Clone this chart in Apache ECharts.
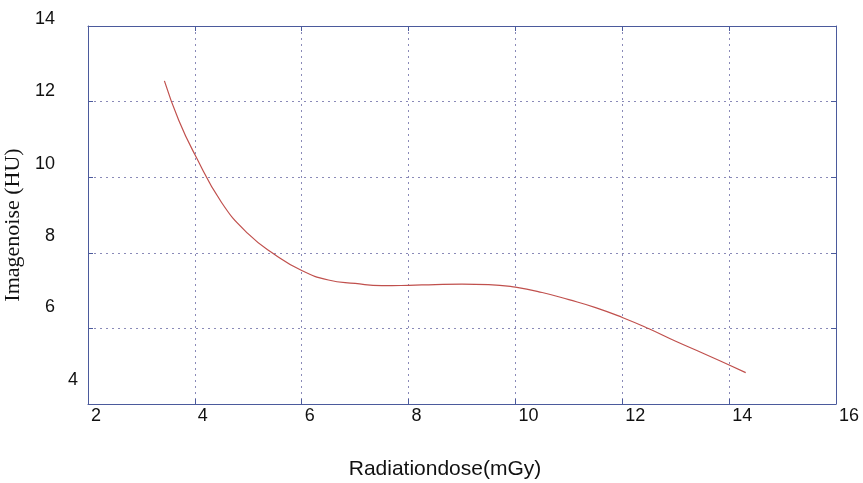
<!DOCTYPE html>
<html>
<head>
<meta charset="utf-8">
<script src="https://cdn.jsdelivr.net/npm/echarts@6/dist/echarts.min.js"></script>
<style>
  html, body { margin: 0; padding: 0; background: #fff; }
  #chart { width: 863px; height: 483px; }
</style>
</head>
<body>
<div id="chart"></div>
<script>
// dose (mGy) vs image noise (HU)
const doseValues = [3.43, 3.7, 4.0, 4.5, 5.0, 5.5, 6.0, 6.5, 7.0, 7.5, 8.0, 8.5, 9.0, 9.5, 10.0, 10.5, 11.0, 11.5, 12.0, 12.5, 13.0, 13.5, 14.0, 14.31];
const noiseValues = [12.55, 11.5, 10.6, 9.33, 8.5, 7.95, 7.53, 7.28, 7.19, 7.13, 7.14, 7.16, 7.17, 7.16, 7.09, 6.95, 6.76, 6.55, 6.29, 5.99, 5.66, 5.35, 5.03, 4.83];
const xTicks = [2, 4, 6, 8, 10, 12, 14, 16];
const yTicks = [4, 6, 8, 10, 12, 14];

const frameColor = "#4b5a9c";
const gridColor = "#8a8ab8";
const sans = "'Liberation Sans', Arial, sans-serif";

// the y tick labels sit a bit above their gridlines in the original
const yLabelRich = {
  v14: { padding: [0, 23, 14, 0] },
  v12: { padding: [0, 23, 22, 0] },
  v10: { padding: [0, 23, 26, 0] },
  v8: { padding: [0, 23, 34, 0] },
  v6: { padding: [0, 23, 42, 0] },
  v4: { padding: [0, 0, 48, 0] },
};

const chart = echarts.init(document.getElementById("chart"));

const innerTicks = { show: true, inside: true, length: 5, lineStyle: { color: frameColor } };

chart.setOption({
  animation: false,
  backgroundColor: "#fff",
  grid: { left: 88, right: 27, top: 26, bottom: 79, outerBoundsMode: "none", containLabel: false },
  xAxis: [
    {
      type: "value",
      min: xTicks[0],
      max: xTicks[xTicks.length - 1],
      interval: 2,
      name: "Radiationdose(mGy)",
      nameLocation: "middle",
      nameGap: 55,
      nameTextStyle: { fontFamily: sans, fontSize: 21, color: "#111", padding: [0, 34, 0, 0] },
      axisLine: { show: true, lineStyle: { color: frameColor } },
      axisTick: innerTicks,
      axisLabel: {
        fontFamily: sans,
        fontSize: 18,
        color: "#111",
        align: "left",
        margin: 3,
        padding: [0, 0, 0, 3],
        showMinLabel: true,
        showMaxLabel: true,
      },
      splitLine: { show: true, lineStyle: { color: gridColor, type: [2, 4], width: 1 } },
    },
    {
      type: "value",
      position: "top",
      min: xTicks[0],
      max: xTicks[xTicks.length - 1],
      interval: 2,
      axisLine: { show: true, lineStyle: { color: frameColor } },
      axisTick: innerTicks,
      axisLabel: { show: false },
      splitLine: { show: false },
    },
  ],
  yAxis: [
    {
      type: "value",
      min: yTicks[0],
      max: yTicks[yTicks.length - 1],
      interval: 2,
      name: "Imagenoise (HU)",
      nameLocation: "middle",
      nameGap: 56,
      nameTextStyle: { fontFamily: "'Liberation Serif', 'Times New Roman', serif", fontSize: 22, color: "#111", padding: [0, 20, 0, 0] },
      axisLine: { show: true, lineStyle: { color: frameColor } },
      axisTick: innerTicks,
      axisLabel: {
        fontFamily: sans,
        fontSize: 18,
        color: "#111",
        margin: 10,
        showMinLabel: true,
        showMaxLabel: true,
        formatter: (v) => "{v" + v + "|" + v + "}",
        rich: yLabelRich,
      },
      splitLine: { show: true, lineStyle: { color: gridColor, type: [2, 4], width: 1 } },
    },
    {
      type: "value",
      position: "right",
      min: yTicks[0],
      max: yTicks[yTicks.length - 1],
      interval: 2,
      axisLine: { show: true, lineStyle: { color: frameColor } },
      axisTick: innerTicks,
      axisLabel: { show: false },
      splitLine: { show: false },
    },
  ],
  series: [
    {
      type: "line",
      data: doseValues.map((d, i) => [d, noiseValues[i]]),
      smooth: 0.5,
      showSymbol: false,
      lineStyle: { color: "#c0504d", width: 1.2 },
    },
  ],
});
</script>
</body>
</html>
